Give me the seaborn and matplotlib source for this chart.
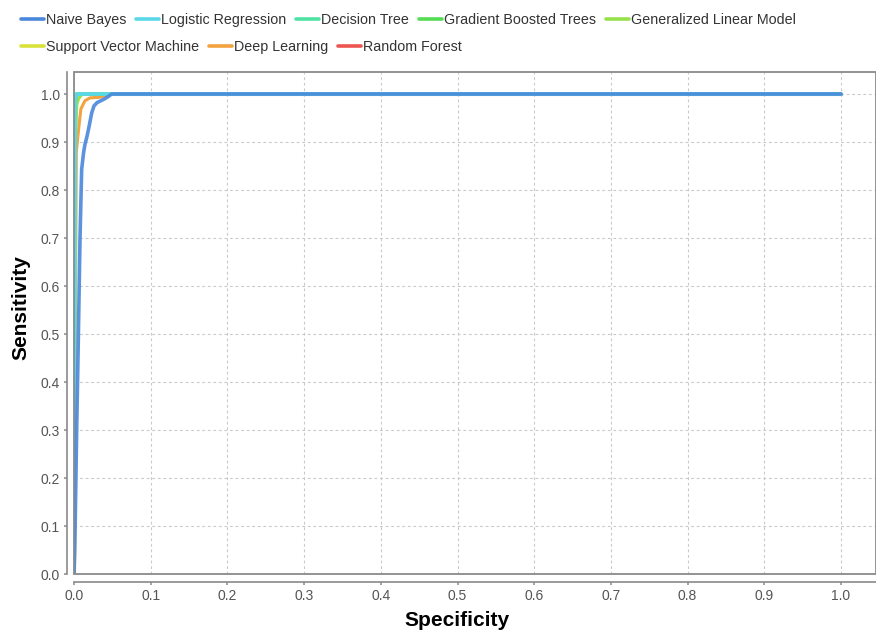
import matplotlib
matplotlib.use("Agg")
import matplotlib.pyplot as plt
from matplotlib.lines import Line2D
from matplotlib.patches import Rectangle
import numpy as np
import pandas as pd
import seaborn as sns

# ROC curves per model: x = specificity axis value, y = sensitivity
models = ["Naive Bayes", "Logistic Regression", "Decision Tree",
          "Gradient Boosted Trees", "Generalized Linear Model",
          "Support Vector Machine", "Deep Learning", "Random Forest"]
colors = ["#4a87dc", "#5ad8e8", "#4fe2a4", "#55dc55", "#97e24c",
          "#d8e23a", "#f2a23e", "#ee5450"]

nb_x = [0.0, 0.001, 0.0035, 0.0056, 0.0078, 0.010, 0.0125, 0.0143, 0.017,
        0.020, 0.023, 0.026, 0.030, 0.035, 0.040, 0.045, 0.049, 1.0]
nb_y = [0.0, 0.05, 0.30, 0.487, 0.697, 0.843, 0.878, 0.895, 0.912,
        0.935, 0.960, 0.975, 0.982, 0.986, 0.990, 0.995, 1.0, 1.0]
lr_x = [0.0, 0.0015, 0.004, 1.0]
lr_y = [0.0, 0.990, 1.0, 1.0]
dt_x = [0.0, 0.0015, 1.0]
dt_y = [0.0, 1.0, 1.0]
gbt_x = [0.0, 0.001, 0.003, 1.0]
gbt_y = [0.0, 0.970, 1.0, 1.0]
glm_x = [0.0, 0.002, 0.0035, 0.006, 0.009, 0.012, 1.0]
glm_y = [0.0, 0.900, 0.979, 0.990, 0.997, 1.0, 1.0]
svm_x = [0.0, 0.002, 0.004, 0.006, 1.0]
svm_y = [0.0, 0.930, 0.985, 1.0, 1.0]
dl_x = [0.0, 0.003, 0.0065, 0.009, 0.0143, 0.021, 0.032, 0.044, 0.048, 1.0]
dl_y = [0.0, 0.880, 0.934, 0.969, 0.986, 0.992, 0.993, 0.997, 1.0, 1.0]
rf_x = [0.0, 0.0, 1.0]
rf_y = [0.0, 1.0, 1.0]

xs = [nb_x, lr_x, dt_x, gbt_x, glm_x, svm_x, dl_x, rf_x]
ys = [nb_y, lr_y, dt_y, gbt_y, glm_y, svm_y, dl_y, rf_y]

df = pd.concat(
    [pd.DataFrame({"Specificity": x, "Sensitivity": y, "model": m})
     for m, x, y in zip(models, xs, ys)],
    ignore_index=True,
)

x_ticks = np.round(np.arange(0, 1.01, 0.1), 1)
y_ticks = np.round(np.arange(0, 1.01, 0.1), 1)

sns.set_theme(style="white")
plt.rcParams["font.family"] = ["Liberation Sans", "DejaVu Sans"]

W, H = 876, 632
PX = 72 / 100  # points per pixel at dpi 100
fig = plt.figure(figsize=(W / 100, H / 100), dpi=100)
ax = fig.add_axes([74 / W, (H - 574) / H, (W - 74) / W, (574 - 72) / H])

palette = dict(zip(models, colors))
# draw the last model first so Naive Bayes ends up on top
for i, m in enumerate(reversed(models)):
    sub = df[df["model"] == m]
    lw = 2.6 if m in ("Naive Bayes", "Logistic Regression") else 2.2
    sns.lineplot(data=sub, x="Specificity", y="Sensitivity", color=palette[m],
                 estimator=None, sort=False, lw=lw, ax=ax, legend=False,
                 zorder=3 + i, alpha=0.9 if m == "Naive Bayes" else 1.0,
                 solid_joinstyle="round")

ax.set_xlim(0, (W - 74) / 767)
ax.set_ylim(0, (574 - 72) / 480)
ax.set_xticks(x_ticks)
ax.set_yticks(y_ticks)
ax.set_xticklabels([f"{v:.1f}" for v in x_ticks])
ax.set_yticklabels([f"{v:.1f}" for v in y_ticks])

ax.grid(True, color="#c9c9c9", lw=0.8, ls=(0, (2.5, 2.5)))
ax.set_axisbelow(True)

for side in ("top", "right"):
    ax.spines[side].set_visible(False)
ax.spines["left"].set_position(("outward", 7 * PX))
ax.spines["bottom"].set_position(("outward", 8 * PX))
for side in ("left", "bottom"):
    ax.spines[side].set_color("#8a8a8a")
    ax.spines[side].set_linewidth(1.2)

ax.add_patch(Rectangle((0, 0), 1, 1, transform=ax.transAxes, fill=False,
                       edgecolor="#8a8a8a", lw=1.3, clip_on=False, zorder=20))

ax.tick_params(axis="both", which="major", direction="out", length=3 * PX,
               width=1.1, color="#8a8a8a", labelsize=10, labelcolor="#555555",
               left=True, bottom=True)
ax.tick_params(axis="y", pad=4 * PX)
ax.tick_params(axis="x", pad=4 * PX)

ax.set_xlabel("Specificity", fontsize=15, fontweight="bold", color="black")
ax.set_ylabel("Sensitivity", fontsize=15, fontweight="bold", color="black")
ax.xaxis.set_label_coords((457 - 74) / (W - 74), -(620 - 574) / (574 - 72))
ax.yaxis.set_label_coords(-(74 - 21) / (W - 74), (574 - 308) / (574 - 72))
ax.xaxis.label.set_va("center")
ax.yaxis.label.set_va("center")

handles = [Line2D([], [], color=c, lw=2.6) for c in colors]
leg_kw = dict(frameon=False, fontsize=10.3, handlelength=1.6, handletextpad=0.14,
              columnspacing=0.7, borderpad=0, borderaxespad=0, labelcolor="#333333")
leg1 = fig.legend(handles[:5], models[:5], ncol=5, loc="upper left",
                  bbox_to_anchor=(21 / W, 1 - 13 / H), **leg_kw)
leg2 = fig.legend(handles[5:], models[5:], ncol=3, loc="upper left",
                  bbox_to_anchor=(21 / W, 1 - 40 / H), **leg_kw)

fig.savefig("out.png", dpi=100)
